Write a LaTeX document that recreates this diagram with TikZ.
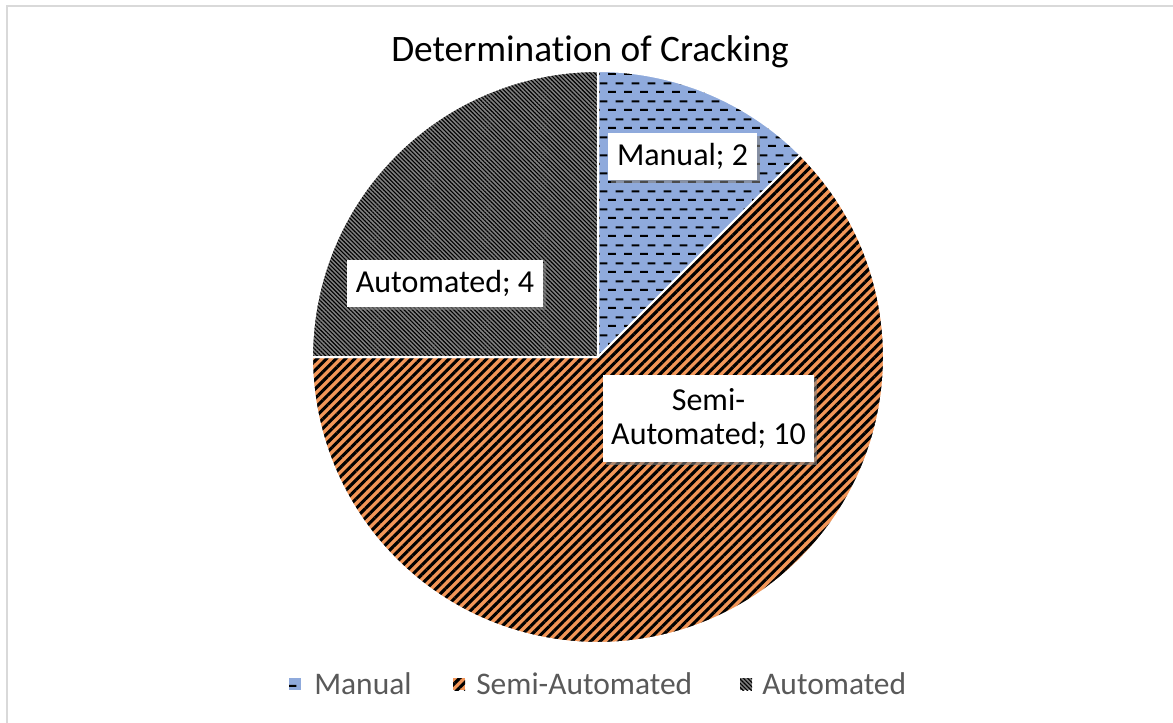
\documentclass[tikz,border=0pt]{standalone}
\usepackage{fontspec}
\setmainfont{Carlito}[Ligatures=NoCommon]
\usetikzlibrary{patterns,patterns.meta,shadows}

\definecolor{manualblue}{RGB}{143,170,220}
\definecolor{semiorange}{RGB}{242,150,88}
\definecolor{autogray}{RGB}{128,128,128}
\definecolor{framegray}{RGB}{217,217,217}
\definecolor{legendgray}{RGB}{89,89,89}

\pgfdeclarepatternformonly{hdashes}{\pgfpointorigin}{\pgfpoint{12pt}{13.5pt}}{\pgfpoint{12pt}{13.5pt}}{%
  \pgfpathrectangle{\pgfpoint{0pt}{0pt}}{\pgfpoint{6.2pt}{1.6pt}}%
  \pgfpathrectangle{\pgfpoint{6pt}{6.75pt}}{\pgfpoint{6.2pt}{1.6pt}}%
  \pgfusepath{fill}%
}

\tikzset{
  manual/.style={preaction={fill=manualblue},pattern=hdashes,pattern color=black},
  semiauto/.style={preaction={fill=semiorange},pattern={Lines[angle=45,distance=5pt,line width=2.3pt]},pattern color=black},
  automated/.style={preaction={fill=autogray},pattern={Lines[angle=-45,distance=2.2pt,line width=0.85pt]},pattern color=black},
  slice/.style={draw=white,line width=1.5pt},
  datalabel/.style={fill=white,inner sep=0pt,align=center,font=\fontsize{24}{25.5}\selectfont,drop shadow={shadow xshift=2.5pt,shadow yshift=-2.5pt,opacity=0.6}},
  legendkey/.style={inner sep=0pt,minimum size=9pt},
  legendtext/.style={anchor=base west,inner sep=0pt,text=legendgray,font=\fontsize{23.6}{27}\selectfont},
}

\begin{document}
\begin{tikzpicture}[x=0.75pt,y=0.75pt,yscale=-1,xscale=1]
\useasboundingbox (0,0) rectangle (1173,723);

%Frame
\draw [framegray,line width=1.5pt] (6.5,723) -- (6.5,6.5) -- (1173,6.5) ;

% Title
\node [anchor=base,inner sep=0pt,font=\fontsize{28}{32}\selectfont] (title) at (590,62) {Determination of Cracking};

%Pie centre
\coordinate (c) at (598,357);
%Slice: Manual
\draw [manual,slice] (c) -- ++(-90:286) arc[start angle=-90,end angle=-45,radius=286] -- cycle ;
%Slice: Semi-Automated
\draw [semiauto,slice] (c) -- ++(-45:286) arc[start angle=-45,end angle=180,radius=286] -- cycle ;
%Slice: Automated
\draw [automated,slice] (c) -- ++(180:286) arc[start angle=180,end angle=270,radius=286] -- cycle ;

% Data labels
\node [datalabel,minimum width=111.75pt,minimum height=35.25pt] (lblmanual) at (682.5,156.5) {Manual; 2};
\node [datalabel,minimum width=158.25pt,minimum height=65.25pt] (lblsemi) at (708.5,418.5) {Semi-\\Automated; 10};
\node [datalabel,minimum width=147pt,minimum height=35.25pt] (lblauto) at (445,283.5) {Automated; 4};

% Legend
\node [legendkey,manual] (keymanual) at (295,684) {};
\node [legendtext] (txtmanual) at (314,694) {Manual};
\node [legendkey,semiauto] (keysemi) at (459,684) {};
\node [legendtext] (txtsemi) at (476,694) {Semi-Automated};
\node [legendkey,automated] (keyauto) at (746,684) {};
\node [legendtext] (txtauto) at (762,694) {Automated};

\end{tikzpicture}
\end{document}
